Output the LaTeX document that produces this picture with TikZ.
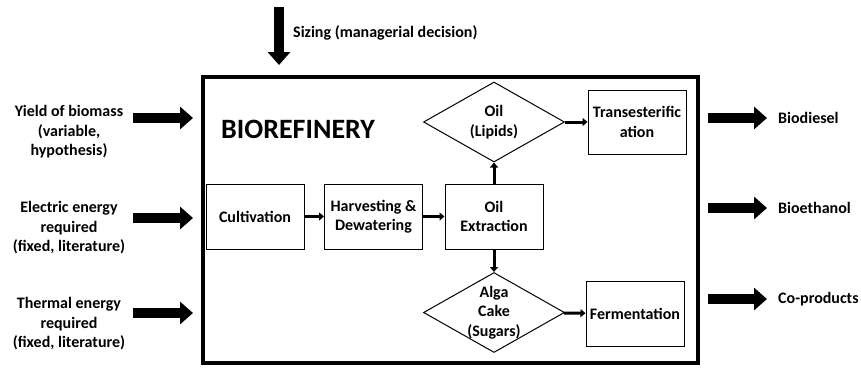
\documentclass[tikz,border=0pt]{standalone}
\usepackage{fontspec}
\setmainfont{Carlito}
\usetikzlibrary{shapes.geometric,arrows.meta,positioning}

\begin{document}
\begin{tikzpicture}[x=1pt,y=-1pt,font=\bfseries\fontsize{16}{19.5}\selectfont]
        \tikzstyle{stage}=[draw,line width=1pt,minimum width=98pt,minimum height=65pt,align=center,inner sep=1pt]
        \tikzstyle{product}=[draw,diamond,line width=1pt,minimum width=141pt,minimum height=80pt,inner sep=0pt]
        \tikzstyle{flow}=[line width=3pt,-{Triangle[length=5pt,width=8pt]}]
        \tikzstyle{fatarrow}=[line width=10pt,-{Triangle[length=13pt,width=22pt]}]
        \tikzstyle{side}=[align=center,inner sep=0pt]
        \tikzstyle{output}=[anchor=west,inner sep=0pt]
        \useasboundingbox (0,0) rectangle (861,367);
        % refinery frame
        \node[draw,line width=4pt,minimum width=495pt,minimum height=286pt] (frame) at (450.5,220) {};
        \node[anchor=west,inner sep=0pt,font=\bfseries\fontsize{28}{30}\selectfont] (title) at (221,129) {BIOREFINERY};
        % process stages
        \node[stage] (cult) at (255,216.5) {Cultivation};
        \node[stage] (harv) at (373.5,216.5) {Harvesting \&\\Dewatering};
        \node[stage] (extr) at (494,216.5) {Oil\\Extraction};
        \node[stage,minimum height=64pt] (trans) at (637,122) {Transesterific\\ation};
        \node[stage] (ferm) at (635,313.5) {Fermentation};
        % intermediate products
        \node[product] (oil) at (494,122) {};
        \node[side] at (oil) {Oil\\(Lipids)};
        \node[product] (cake) at (494,312.5) {};
        \node[side] at (cake) {Alga\\Cake\\(Sugars)};
        % flows inside the refinery
        \draw[flow] (cult) -- (harv);
        \draw[flow] (harv) -- (extr);
        \draw[flow] (extr) -- (oil);
        \draw[flow] (extr) -- (cake);
        \draw[flow] (oil) -- (trans);
        \draw[flow] (cake) -- (ferm);
        % inputs
        \node[output] (sizing) at (293,33) {Sizing (managerial decision)};
        \coordinate (top) at (279,7);
        \draw[fatarrow,shorten >=10pt] (top) -- (frame.north -| top);
        \node[side] (yield) at (69,132) {Yield of biomass\\(variable,\\hypothesis)};
        \node[side] (elec) at (69,228) {Electric energy\\required\\(fixed, literature)};
        \node[side] (therm) at (69,324) {Thermal energy\\required\\(fixed, literature)};
        \coordinate (in1) at (133,118);
        \coordinate (in2) at (133,218);
        \coordinate (in3) at (133,313);
        \draw[fatarrow,shorten >=8pt] (in1) -- (frame.west |- in1);
        \draw[fatarrow,shorten >=8pt] (in2) -- (frame.west |- in2);
        \draw[fatarrow,shorten >=8pt] (in3) -- (frame.west |- in3);
        % outputs
        \node[output] (diesel) at (778,118) {Biodiesel};
        \node[output] (ethanol) at (778,208) {Bioethanol};
        \node[output] (coprod) at (778,299) {Co-products};
        \draw[fatarrow,shorten <=8pt,shorten >=11pt] (frame.east |- diesel) -- (diesel);
        \draw[fatarrow,shorten <=8pt,shorten >=11pt] (frame.east |- ethanol) -- (ethanol);
        \draw[fatarrow,shorten <=8pt,shorten >=11pt] (frame.east |- coprod) -- (coprod);
\end{tikzpicture}
\end{document}
